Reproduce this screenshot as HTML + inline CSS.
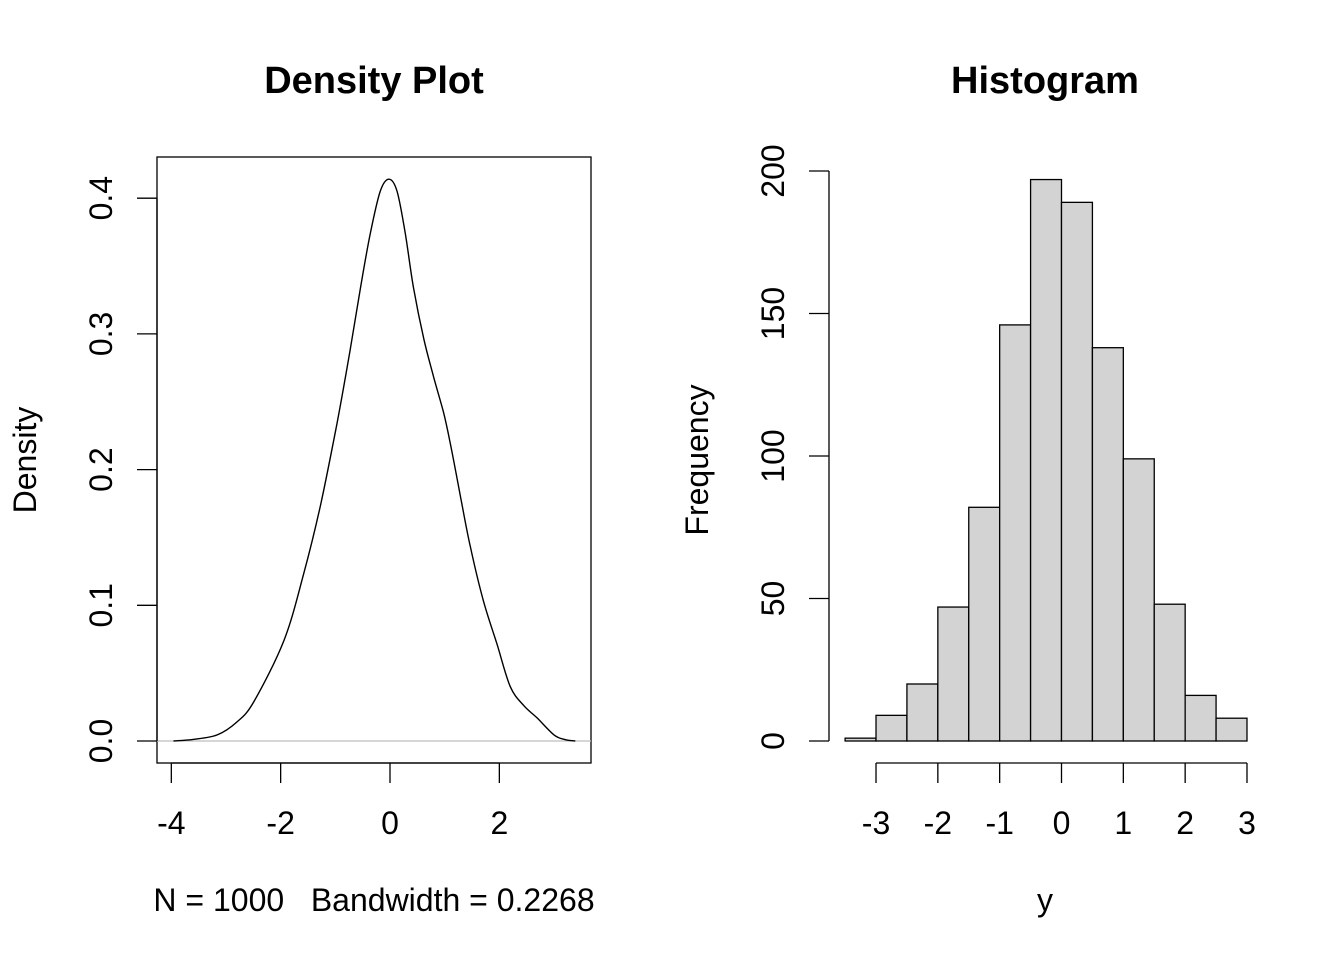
<!DOCTYPE html>
<html><head><meta charset="utf-8"><style>
html,body{margin:0;padding:0;background:#fff}
svg{display:block;font-family:"Liberation Sans",Arial,sans-serif}
</style></head><body>
<svg id="chart" width="1344" height="960" viewBox="0 0 1344 960" xmlns="http://www.w3.org/2000/svg">
<rect width="1344" height="960" fill="#fff"/>
<g id="left"></g>
<g id="right"></g>
</svg>
<script>
const densX = [-3.96,-3.6,-3.16,-2.8,-2.49,-1.94,-1.58,-1.27,-0.97,-0.73,-0.54,-0.36,-0.18,-0.02,0.13,0.28,0.43,0.62,0.80,0.98,1.10,1.29,1.47,1.71,1.96,2.20,2.45,2.69,3.0,3.2,3.39];
const densY = [0,0.0012,0.0045,0.014,0.029,0.074,0.123,0.174,0.234,0.288,0.334,0.374,0.405,0.414,0.405,0.374,0.334,0.296,0.268,0.242,0.220,0.180,0.143,0.103,0.071,0.040,0.026,0.017,0.0045,0.001,0];
const densXTicks = [-4,-2,0,2];
const densYTicks = [0,0.1,0.2,0.3,0.4];
const densYLabels = ["0.0","0.1","0.2","0.3","0.4"];
const binStarts = [-3.5,-3,-2.5,-2,-1.5,-1,-0.5,0,0.5,1,1.5,2,2.5];
const binCounts = [1,9,20,47,82,146,197,189,138,99,48,16,8];
const binWidth = 0.5;
const histXTicks = [-3,-2,-1,0,1,2,3];
const histYTicks = [0,50,100,150,200];

const NS="http://www.w3.org/2000/svg";
function mk(parent,tag,attrs,text){const e=document.createElementNS(NS,tag);for(const k in attrs)e.setAttribute(k,attrs[k]);if(text!==undefined)e.textContent=text;parent.appendChild(e);return e;}
function smooth(pts){
 let d='M'+pts[0][0].toFixed(1)+','+pts[0][1].toFixed(1);
 for(let i=0;i<pts.length-1;i++){
  const p0=pts[Math.max(0,i-1)],p1=pts[i],p2=pts[i+1],p3=pts[Math.min(pts.length-1,i+2)];
  const c1=[p1[0]+(p2[0]-p0[0])/6,p1[1]+(p2[1]-p0[1])/6];
  const c2=[p2[0]-(p3[0]-p1[0])/6,p2[1]-(p3[1]-p1[1])/6];
  d+='C'+c1[0].toFixed(1)+','+c1[1].toFixed(1)+' '+c2[0].toFixed(1)+','+c2[1].toFixed(1)+' '+p2[0].toFixed(1)+','+p2[1].toFixed(1);
 }
 return d;
}

// Density panel
const L=document.getElementById('left');
const dx=v=>390+v*54.67;
const dy=v=>741-v*1357;
let e=mk(L,'rect',{x:157,y:157,width:434,height:606,fill:'none',stroke:'#000','stroke-width':1.3});

e=mk(L,'line',{x1:157,x2:591,y1:dy(0),y2:dy(0),stroke:'#bebebe','stroke-width':1.3});

e=mk(L,'path',{d:smooth(densX.map((x,i)=>[dx(x),dy(densY[i])])),fill:'none',stroke:'#000','stroke-width':1.4,'stroke-linejoin':'round'});

e=mk(L,'line',{x1:dx(densXTicks[0]),x2:dx(densXTicks[densXTicks.length-1]),y1:763,y2:763,stroke:'#000','stroke-width':1.3});

densXTicks.forEach(t=>{
 let a=mk(L,'line',{x1:dx(t),x2:dx(t),y1:763,y2:783,stroke:'#000','stroke-width':1.3});
 
 a=mk(L,'text',{x:dx(t),y:834,'font-size':32,'text-anchor':'middle'},String(t));
 
});
e=mk(L,'line',{x1:157,x2:157,y1:dy(0),y2:dy(0.4),stroke:'#000','stroke-width':1.3});

densYTicks.forEach((t,i)=>{
 let a=mk(L,'line',{x1:137,x2:157,y1:dy(t),y2:dy(t),stroke:'#000','stroke-width':1.3});
 
 a=mk(L,'text',{x:0,y:0,'font-size':32,'text-anchor':'middle',transform:`translate(112,${dy(t)}) rotate(-90)`},densYLabels[i]);
 
});
e=mk(L,'text',{x:374,y:93,'font-size':38,'font-weight':'bold','text-anchor':'middle'},'Density Plot');

e=mk(L,'text',{x:374,y:911,'font-size':32,'text-anchor':'middle'},'N = 1000\u00a0\u00a0\u00a0Bandwidth = 0.2268');

e=mk(L,'text',{x:0,y:0,'font-size':32,'text-anchor':'middle',transform:'translate(36,460) rotate(-90)'},'Density');


// Histogram panel
const R=document.getElementById('right');
const hx=v=>1061.5+v*61.83;
const hy=v=>741-v*2.85;
binStarts.forEach((s,i)=>{
 const b=mk(R,'rect',{x:hx(s),y:hy(binCounts[i]),width:hx(s+binWidth)-hx(s),height:hy(0)-hy(binCounts[i]),fill:'#d3d3d3',stroke:'#000','stroke-width':1.3});
 
});
e=mk(R,'line',{x1:hx(histXTicks[0]),x2:hx(histXTicks[histXTicks.length-1]),y1:763,y2:763,stroke:'#000','stroke-width':1.3});

histXTicks.forEach(t=>{
 let a=mk(R,'line',{x1:hx(t),x2:hx(t),y1:763,y2:783,stroke:'#000','stroke-width':1.3});
 
 a=mk(R,'text',{x:hx(t),y:834,'font-size':32,'text-anchor':'middle'},String(t));
 
});
e=mk(R,'line',{x1:829,x2:829,y1:hy(0),y2:hy(200),stroke:'#000','stroke-width':1.3});

histYTicks.forEach(t=>{
 let a=mk(R,'line',{x1:809,x2:829,y1:hy(t),y2:hy(t),stroke:'#000','stroke-width':1.3});
 
 a=mk(R,'text',{x:0,y:0,'font-size':32,'text-anchor':'middle',transform:`translate(784,${hy(t)}) rotate(-90)`},String(t));
 
});
e=mk(R,'text',{x:1045,y:93,'font-size':38,'font-weight':'bold','text-anchor':'middle'},'Histogram');

e=mk(R,'text',{x:1045,y:911,'font-size':32,'text-anchor':'middle'},'y');

e=mk(R,'text',{x:0,y:0,'font-size':32,'text-anchor':'middle',transform:'translate(708,460) rotate(-90)'},'Frequency');

</script>
</body></html>
